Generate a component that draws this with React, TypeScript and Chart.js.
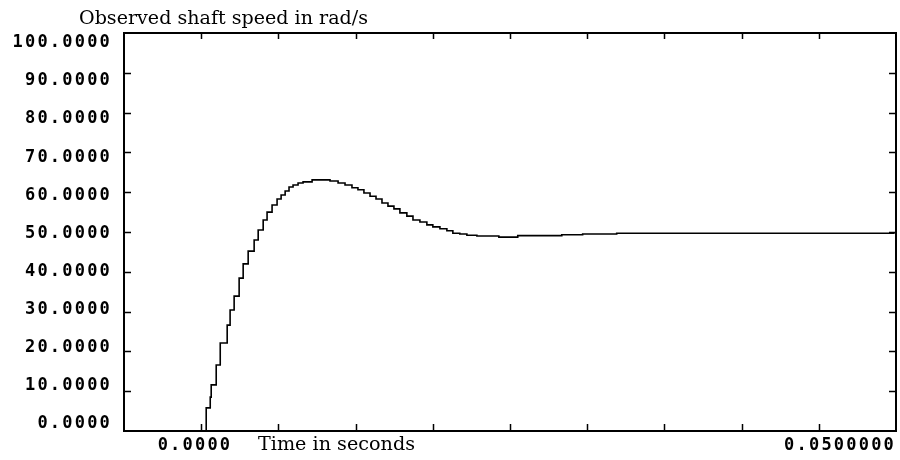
import React, { useEffect, useRef } from 'react';
import { Chart, registerables } from 'chart.js';

Chart.register(...registerables);

// Step-response samples: time (s) where each step occurs, and the new speed (rad/s)
const timeSeconds = [
  0.00029, 0.00036, 0.00065, 0.00072, 0.00108, 0.00137, 0.00187, 0.00208, 0.00237,
  0.00273, 0.00302, 0.00338, 0.00381, 0.0041, 0.00446, 0.00474, 0.0051, 0.00546,
  0.00575, 0.00604, 0.00632, 0.00661, 0.00697, 0.00733, 0.00798, 0.00927, 0.00985,
  0.01035, 0.01085, 0.01128, 0.01171, 0.01215, 0.01258, 0.01301, 0.01344, 0.01387,
  0.0143, 0.0148, 0.01524, 0.01574, 0.01624, 0.01667, 0.01718, 0.01768, 0.01811,
  0.01861, 0.01912, 0.01984, 0.02142, 0.02278, 0.02595, 0.02745, 0.0299, 0.0499,
];
const shaftSpeed = [
  0, 5.8, 8.5, 11.6, 16.6, 22.1, 26.6, 30.4, 33.9,
  38.4, 42.0, 45.2, 48.0, 50.5, 53.0, 55.0, 56.8, 58.3,
  59.3, 60.3, 61.3, 61.8, 62.3, 62.6, 63.1, 62.8, 62.3,
  61.8, 61.1, 60.6, 59.8, 59.0, 58.3, 57.3, 56.5, 55.8,
  54.8, 54.0, 53.0, 52.5, 51.8, 51.3, 50.8, 50.3, 49.7,
  49.5, 49.2, 49.0, 48.7, 49.1, 49.3, 49.5, 49.7, 49.7,
];

const xTickValues = [
  -0.0055556, 0, 0.0055556, 0.0111111, 0.0166667, 0.0222222, 0.0277778,
  0.0333333, 0.0388889, 0.0444444, 0.05,
];
const xTickLabels = ['', '0.0000 ', '', '', '', '', '', '', '', '', '0.0500000'];
const yTickValues = [0, 10, 20, 30, 40, 50, 60, 70, 80, 90, 100];
const yTickLabels = [
  '0.0000', '10.0000', '20.0000', '30.0000', '40.0000', '50.0000',
  '60.0000', '70.0000', '80.0000', '90.0000', '100.0000',
];
const titleText = 'Observed shaft speed in rad/s';
const xAxisText = 'Time in seconds';

function drawFitted(ctx: CanvasRenderingContext2D, text: string, x: number, y: number, w: number) {
  const m = ctx.measureText(text).width;
  ctx.save();
  ctx.translate(x, y);
  ctx.scale(w / m, 1);
  ctx.fillText(text, 0, 0);
  ctx.restore();
}

const framePlugin = {
  id: 'frame',
  beforeDraw(chart: any) {
    chart.ctx.letterSpacing = '2.2px';
  },
  afterDraw(chart: any) {
    const { ctx, chartArea: a, scales } = chart;
    const xs = scales.x;
    const ys = scales.y;
    ctx.save();
    ctx.letterSpacing = '0px';
    ctx.strokeStyle = '#000';
    ctx.lineWidth = 2;
    ctx.strokeRect(a.left, a.top, a.right - a.left, a.bottom - a.top);
    ctx.lineWidth = 1.5;
    ctx.beginPath();
    xTickValues.forEach((v, i) => {
      if (i === 0 || i === xTickValues.length - 1) return;
      const px = Math.round(xs.getPixelForValue(v)) + 0.5;
      ctx.moveTo(px, a.bottom);
      ctx.lineTo(px, a.bottom - 7);
      ctx.moveTo(px, a.top);
      ctx.lineTo(px, a.top + 6);
    });
    yTickValues.forEach((v, i) => {
      if (i === 0 || i === yTickValues.length - 1) return;
      const py = Math.round(ys.getPixelForValue(v)) + 0.5;
      ctx.moveTo(a.left, py);
      ctx.lineTo(a.left + 7, py);
      ctx.moveTo(a.right, py);
      ctx.lineTo(a.right - 7, py);
    });
    ctx.stroke();
    ctx.fillStyle = '#000';
    ctx.textBaseline = 'alphabetic';
    ctx.textAlign = 'left';
    ctx.font = '18px "DejaVu Serif"';
    drawFitted(ctx, titleText, 79, 24, 289);
    drawFitted(ctx, xAxisText, 258, 450, 157);
    ctx.restore();
  },
};

export default function App() {
  const ref = useRef<HTMLCanvasElement | null>(null);
  useEffect(() => {
    document.body.style.margin = '0';
    const canvas = ref.current;
    if (!canvas) return;
    const tickFont = { family: '"DejaVu Sans Mono"', weight: 'bold' as const, size: 17 };
    const chart = new Chart(canvas, {
      type: 'line',
      data: {
        datasets: [
          {
            data: timeSeconds.map((t, i) => ({ x: t, y: shaftSpeed[i] })),
            borderColor: '#000',
            borderWidth: 1.6,
            pointRadius: 0,
            stepped: 'before',
            fill: false,
            xAxisID: 'x',
            yAxisID: 'y',
          },
        ],
      },
      options: {
        animation: false,
        responsive: false,
        layout: { padding: { top: 33, right: 4, left: 0, bottom: 0 } },
        plugins: { legend: { display: false }, tooltip: { enabled: false }, title: { display: false } },
        scales: {
          x: {
            type: 'linear',
            position: 'bottom',
            min: xTickValues[0],
            max: xTickValues[xTickValues.length - 1],
            afterBuildTicks: (s: any) => {
              s.ticks = xTickValues.map((v) => ({ value: v }));
            },
            afterFit: (s: any) => {
              s.height = 29;
            },
            grid: { display: false, drawTicks: false },
            border: { display: false },
            ticks: {
              autoSkip: false,
              maxRotation: 0,
              align: 'inner',
              padding: 4,
              color: '#000',
              font: tickFont,
              callback: (_v: any, i: number) => xTickLabels[i],
            },
          },
          y: {
            type: 'linear',
            display: false,
            min: 0,
            max: 100,
          },
          yl: {
            type: 'linear',
            position: 'left',
            min: -2.02,
            max: 102.63,
            afterBuildTicks: (s: any) => {
              s.ticks = yTickValues.map((v) => ({ value: v }));
            },
            afterFit: (s: any) => {
              s.width = 124;
            },
            grid: { display: false, drawTicks: false },
            border: { display: false },
            ticks: {
              autoSkip: false,
              padding: 12,
              color: '#000',
              font: tickFont,
              callback: (_v: any, i: number) => yTickLabels[i],
            },
          },
        },
      },
      plugins: [framePlugin],
    });
    return () => chart.destroy();
  }, []);
  return <canvas ref={ref} width={900} height={460} style={{ display: 'block' }} />;
}
